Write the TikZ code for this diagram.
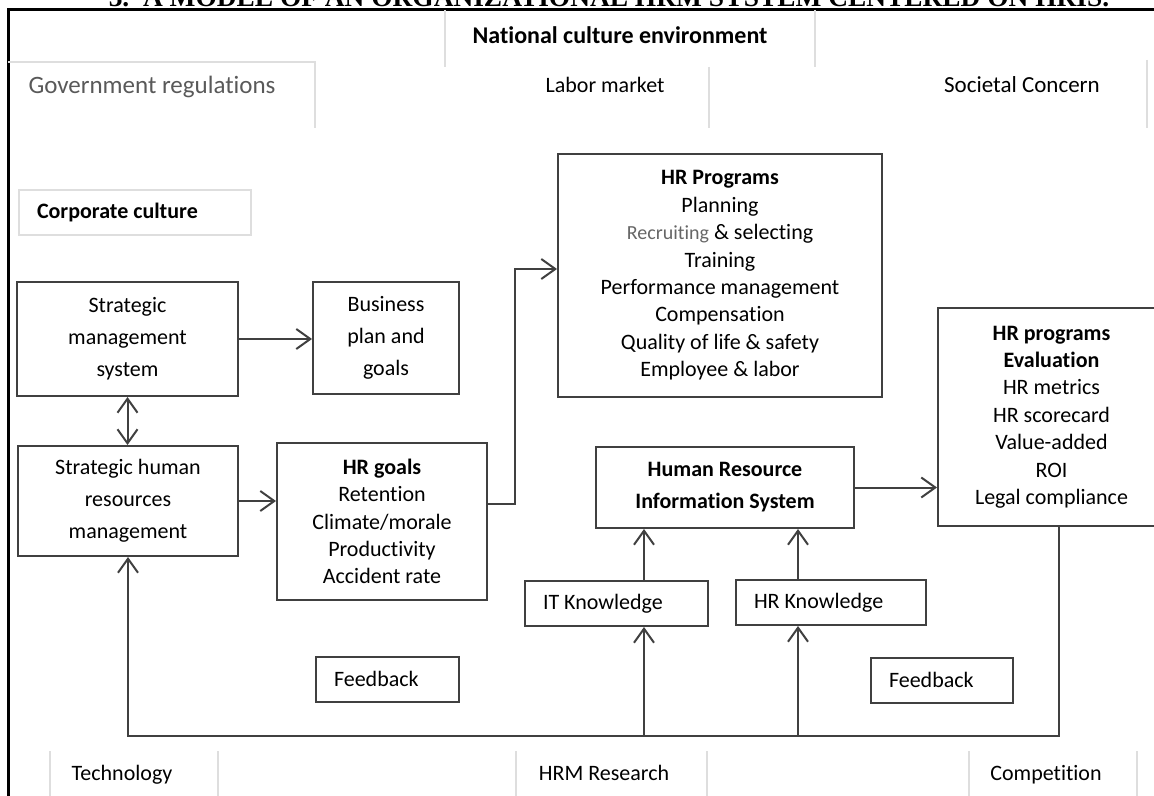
\documentclass[tikz,border=0pt]{standalone}
\usepackage{fontspec}
\setmainfont{Carlito}[Ligatures=CommonOff]
\newfontfamily\headfont{Liberation Serif}
\usetikzlibrary{arrows.meta}

\begin{document}
\begin{tikzpicture}[x=0.5pt, y=-0.5pt, >={Straight Barb[length=7pt,width=10pt]},
    box/.style={draw=black!75, line width=1pt, align=center, inner sep=0pt,
        font=\fontsize{11}{16}\selectfont},
    list/.style={box, font=\fontsize{11}{13.7}\selectfont},
    tag/.style={draw=black!75, line width=1pt, align=flush left, inner xsep=9pt,
        inner ysep=0pt, minimum height=22.5pt, text width=#1,
        font=\fontsize{11}{13}\selectfont},
    faint/.style={draw=black!13, line width=0.6pt},
    env/.style={inner sep=0pt, text height=8pt, text depth=2.5pt,
        font=\fontsize{11}{13}\selectfont},
    link/.style={draw=black!75, line width=1pt}]
    \useasboundingbox (0,0) rectangle (1154,796);

    % heading, cut by the top of the page
    \node[anchor=base, font=\headfont\bfseries\fontsize{13.7}{15}\selectfont] (title) at (609,7)
        {3.\ \ A MODEL OF AN ORGANIZATIONAL HRM SYSTEM CENTERED ON HRIS.};
    \draw[line width=1.5pt] (8,810) -- (8,10) -- (1170,10);

    % environment
    \draw[faint] (8,62) -- (315,62) -- (315,128);
    \draw[faint] (445,10) -- (445,67);
    \draw[faint] (815,10) -- (815,67);
    \draw[faint] (709,67) -- (709,128);
    \draw[faint] (1147,60) -- (1147,128);
    \foreach \x in {50,218,516,707,969,1137}
        \draw[faint] (\x,751) -- (\x,800);

    \node[env, font=\fontsize{12}{14}\selectfont\bfseries] (nat) at (620,38) {National culture environment};
    \node[env, text=black!65, font=\fontsize{12.5}{14}\selectfont] (gov) at (152,88) {Government regulations};
    \node[env] (labor) at (605,87) {Labor market};
    \node[env, font=\fontsize{11.5}{13}\selectfont] (soc) at (1022,87) {Societal Concern};
    \node[env] (tech) at (122,775) {Technology};
    \node[env] (res) at (604,775) {HRM Research};
    \node[env] (comp) at (1046,775) {Competition};

    \node[tag=98pt, draw=black!13, font=\fontsize{11}{13}\selectfont\bfseries] (corp) at (135,213)
        {Corporate culture};

    % organisation
    \node[box, minimum width=110.5pt, minimum height=57pt] (sms) at (127.5,339)
        {Strategic\\management\\system};
    \node[box, minimum width=73pt, minimum height=56pt] (plan) at (386,338)
        {Business\\plan and\\goals};
    \node[list, minimum width=162pt, minimum height=121.5pt] (prog) at (720,275.5)
        {\textbf{HR Programs}\\Planning\\{\color{black!60}\fontsize{10}{13.7}\selectfont Recruiting} \& selecting\\
         Training\\Performance management\\Compensation\\Quality of life \& safety\\Employee \& labor};
    \node[box, minimum width=110pt, minimum height=55pt] (shrm) at (128,501)
        {Strategic human\\resources\\management};
    \node[list, minimum width=105pt, minimum height=78.5pt] (goals) at (382,521.5)
        {\textbf{HR goals}\\Retention\\Climate/morale\\Productivity\\Accident rate};
    \node[box, minimum width=129pt, minimum height=40.5pt] (hris) at (725,487.5)
        {\textbf{Human Resource}\\\textbf{Information System}};
    \node[list, minimum width=113.5pt, minimum height=109pt] (eval) at (1051.5,417)
        {\textbf{HR programs}\\\textbf{Evaluation}\\HR metrics\\HR scorecard\\Value-added\\ROI\\Legal compliance};

    \node[tag=73.5pt] (it) at (616.5,603.5) {IT Knowledge};
    \node[tag=77pt] (hrk) at (831,602.5) {HR Knowledge};
    \node[tag=53.5pt] (fb1) at (387.5,679) {Feedback};
    \node[tag=53pt] (fb2) at (942,680) {Feedback};

    % connectors
    \draw[link,->] (sms.east) -- (sms.east -| plan.west);
    \draw[link,<->] (sms.south) -- (sms.south |- shrm.north);
    \draw[link,->] (shrm.east) -- (shrm.east -| goals.west);
    \coordinate (up) at (515,504);
    \draw[link,->] (goals.east |- up) -- (up) |- ([yshift=3.25pt]prog.west);
    \draw[link,->] (hris.east) -- (hris.east -| eval.west);

    \coordinate (itin) at (644,736);
    \coordinate (hrin) at (798,736);
    \draw[link,->] (itin) -- (itin |- it.south);
    \draw[link,->] (it.north -| itin) -- (itin |- hris.south);
    \draw[link,->] (hrin) -- (hrin |- hrk.south);
    \draw[link,->] (hrk.north -| hrin) -- (hrin |- hris.south);

    \coordinate (loopR) at (1059,736);
    \coordinate (loopL) at (128,736);
    \draw[link,->] (eval.south -| loopR) -- (loopR) -- (loopL) -- (shrm.south);
\end{tikzpicture}
\end{document}
